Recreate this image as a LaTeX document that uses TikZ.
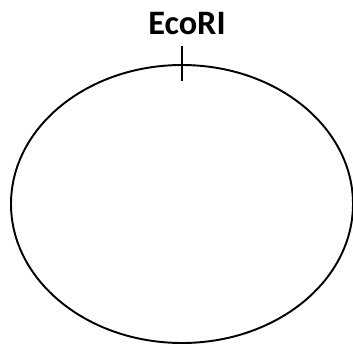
\documentclass[tikz,border=0pt]{standalone}
\usepackage{fontspec}
\setsansfont{Carlito}
\usetikzlibrary{shapes.geometric}

\begin{document}
\begin{tikzpicture}[>=stealth]
			\useasboundingbox (0,0) rectangle (7.06,-6.92);
			\tikzset{
				plasmidring/.style={draw, ellipse, line width=1.1pt, inner sep=0pt, minimum width=6.84cm, minimum height=5.56cm},
				sitelabel/.style={font=\sffamily\bfseries\fontsize{19.5}{22}\selectfont, inner sep=0pt}
			}

			\node [plasmidring] (plasmid) at (3.64,-4.08) {};

			% restriction site
			\coordinate (cuttop) at ([yshift=0.36cm]plasmid.north);
			\coordinate (cutbot) at ([yshift=-0.34cm]plasmid.north);
			\draw [line width=1.1pt] (cuttop) -- (cutbot);
			\node [sitelabel] (ecori) at (3.74,-0.48) {EcoRI};
		\end{tikzpicture}
\end{document}
